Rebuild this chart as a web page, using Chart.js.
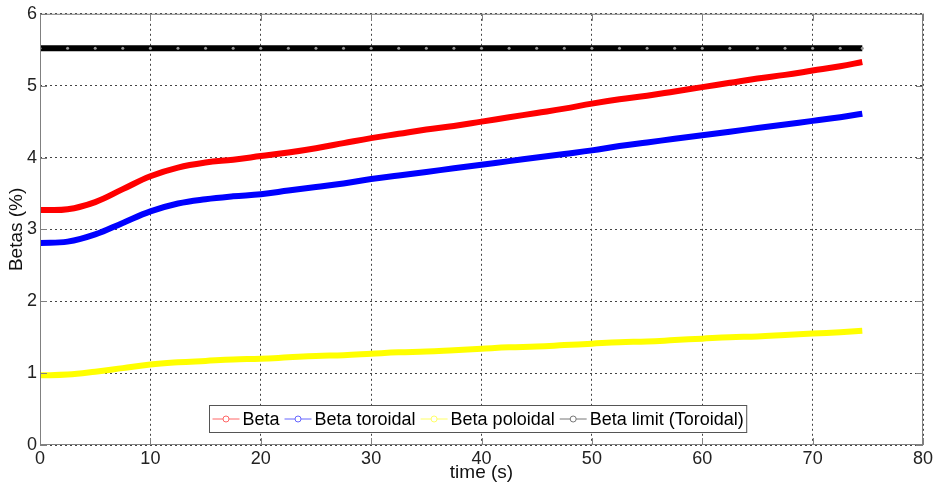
<!DOCTYPE html>
<html>
<head>
<meta charset="utf-8">
<script src="https://cdn.jsdelivr.net/npm/chart.js@4/dist/chart.umd.min.js"></script>
<style>
  html, body { margin: 0; padding: 0; background: #fff; }
  #wrap { width: 933px; height: 488px; }
</style>
</head>
<body>
<div id="wrap"><canvas id="betaChart" width="933" height="488"></canvas></div>
<script>
var time = [0, 2.5, 5, 7.5, 10, 12.5, 15, 17.5, 20, 22.5, 25, 27.5, 30, 32.5, 35, 37.5,
  40, 42.5, 45, 47.5, 50, 52.5, 55, 57.5, 60, 62.5, 65, 67.5, 70, 72.5, 74.5];

var beta = [3.27, 3.28, 3.38, 3.56, 3.74, 3.86, 3.93, 3.97, 4.02, 4.07, 4.13, 4.20, 4.27, 4.33, 4.39, 4.44,
  4.50, 4.56, 4.62, 4.68, 4.75, 4.81, 4.86, 4.92, 4.98, 5.04, 5.10, 5.15, 5.21, 5.27, 5.33];

var betaToroidal = [2.81, 2.83, 2.93, 3.09, 3.25, 3.36, 3.42, 3.46, 3.49, 3.54, 3.59, 3.64, 3.70, 3.75, 3.80, 3.85,
  3.90, 3.95, 4.00, 4.05, 4.10, 4.16, 4.21, 4.26, 4.31, 4.36, 4.41, 4.46, 4.51, 4.56, 4.61];

var betaPoloidal = [0.97, 0.98, 1.02, 1.07, 1.12, 1.15, 1.17, 1.19, 1.20, 1.22, 1.24, 1.25, 1.27, 1.29, 1.30, 1.32,
  1.34, 1.36, 1.37, 1.39, 1.41, 1.43, 1.44, 1.46, 1.48, 1.50, 1.51, 1.53, 1.55, 1.57, 1.59];

var betaLimit = [5.52, 5.52, 5.52, 5.52, 5.52, 5.52, 5.52, 5.52, 5.52, 5.52, 5.52, 5.52, 5.52, 5.52, 5.52, 5.52,
  5.52, 5.52, 5.52, 5.52, 5.52, 5.52, 5.52, 5.52, 5.52, 5.52, 5.52, 5.52, 5.52, 5.52, 5.52];

var seriesNames = ["Beta", "Beta toroidal", "Beta poloidal", "Beta limit (Toroidal)"];
var seriesColors = ["#ff0000", "#0000ff", "#ffff00", "#000000"];
var legendColors = ["#ff6666", "#6666ff", "#ffff66", "#777777"];

var xTicks = [0, 10, 20, 30, 40, 50, 60, 70, 80];
var yTicks = [0, 1, 2, 3, 4, 5, 6];

function pts(ys) {
  return time.map(function (t, i) { return { x: t, y: ys[i] }; });
}

var font = "'Liberation Sans', Arial, sans-serif";

// box around the plot plus inward ticks, MATLAB style
var boxPlugin = {
  id: "box",
  afterDraw: function (chart) {
    var a = chart.chartArea, c = chart.ctx;
    var xs = chart.scales.x, ys = chart.scales.y;
    c.save();
    c.strokeStyle = "#808080";
    c.lineWidth = 1;
    c.strokeRect(a.left + 0.5, a.top + 0.5, a.right - a.left - 1, a.bottom - a.top - 1);
    c.beginPath();
    xTicks.forEach(function (v) {
      var px = Math.round(xs.getPixelForValue(v)) + 0.5;
      c.moveTo(px, a.bottom); c.lineTo(px, a.bottom - 7);
      c.moveTo(px, a.top); c.lineTo(px, a.top + 7);
    });
    yTicks.forEach(function (v) {
      var py = Math.round(ys.getPixelForValue(v)) + 0.5;
      c.moveTo(a.left, py); c.lineTo(a.left + 7, py);
      c.moveTo(a.right, py); c.lineTo(a.right - 7, py);
    });
    c.stroke();

    // legend box inside the axes, bottom centre
    c.font = "18px " + font;
    var sample = 27, gap = 3, pad = 3;
    var widths = seriesNames.map(function (n) { return sample + gap + c.measureText(n).width + 5; });
    var total = widths.reduce(function (s, w) { return s + w; }, 0) + pad * 2 - 5;
    var bx = Math.round((a.left + a.right) / 2 - total / 2) - 3.5;
    var by = 405.5, bh = 27;
    c.fillStyle = "#fff";
    c.fillRect(bx, by, total, bh);
    c.strokeStyle = "#555";
    c.strokeRect(bx, by, total, bh);
    var x = bx + pad;
    var cy = by + bh / 2;
    seriesNames.forEach(function (n, i) {
      c.strokeStyle = legendColors[i];
      c.lineWidth = 1;
      c.beginPath();
      c.moveTo(x, cy); c.lineTo(x + sample, cy);
      c.stroke();
      c.beginPath();
      c.arc(x + sample / 2, cy, 3, 0, Math.PI * 2);
      c.fillStyle = "#fff";
      c.fill();
      c.stroke();
      c.fillStyle = "#000";
      c.textBaseline = "middle";
      c.textAlign = "left";
      c.fillText(n, x + sample + gap, cy + 1);
      x += widths[i];
    });
    c.restore();
  }
};

var ctx = document.getElementById("betaChart").getContext("2d");
var myChart = new Chart(ctx, {
  type: "line",
  data: {
    datasets: [
      {
        label: seriesNames[3],
        data: pts(betaLimit),
        borderColor: seriesColors[3],
        backgroundColor: "#666",
        borderWidth: 6,
        pointRadius: 1.5,
        pointBorderWidth: 0,
        pointBackgroundColor: "#999",
      },
      {
        label: seriesNames[0],
        data: pts(beta),
        borderColor: seriesColors[0],
        borderWidth: 6,
        pointRadius: 0,
        tension: 0.4,
      },
      {
        label: seriesNames[1],
        data: pts(betaToroidal),
        borderColor: seriesColors[1],
        borderWidth: 6,
        pointRadius: 0,
        tension: 0.4,
      },
      {
        label: seriesNames[2],
        data: pts(betaPoloidal),
        borderColor: seriesColors[2],
        borderWidth: 6,
        pointRadius: 0,
        tension: 0.4,
      },
    ],
  },
  options: {
    responsive: false,
    animation: false,
    layout: { padding: { left: 0, top: 12, right: 10, bottom: 0 } },
    plugins: {
      legend: { display: false },
      tooltip: { enabled: false },
    },
    scales: {
      x: {
        type: "linear",
        min: 0,
        max: 80,
        afterFit: function (s) { s.height = 43; s.paddingLeft = 0; s.paddingRight = 0; },
        afterBuildTicks: function (s) { s.ticks = xTicks.map(function (v) { return { value: v }; }); },
        grid: { color: "#444", drawTicks: false },
        border: { display: false, dash: [2, 3] },
        ticks: { color: "#222", font: { family: font, size: 18 }, padding: 3, maxRotation: 0 },
        title: { display: true, text: "time (s)", color: "#111", font: { family: font, size: 19 }, padding: { top: 0, bottom: 4 } },
      },
      y: {
        min: 0,
        max: 6,
        afterFit: function (s) { s.width = 40; },
        afterBuildTicks: function (s) { s.ticks = yTicks.map(function (v) { return { value: v }; }); },
        grid: { color: "#444", drawTicks: false },
        border: { display: false, dash: [2, 3] },
        ticks: { color: "#222", font: { family: font, size: 18 }, padding: 3 },
        title: { display: true, text: "Betas (%)", color: "#111", font: { family: font, size: 19 }, padding: { top: 5, bottom: 0 } },
      },
    },
  },
  plugins: [boxPlugin],
});
</script>
</body>
</html>
